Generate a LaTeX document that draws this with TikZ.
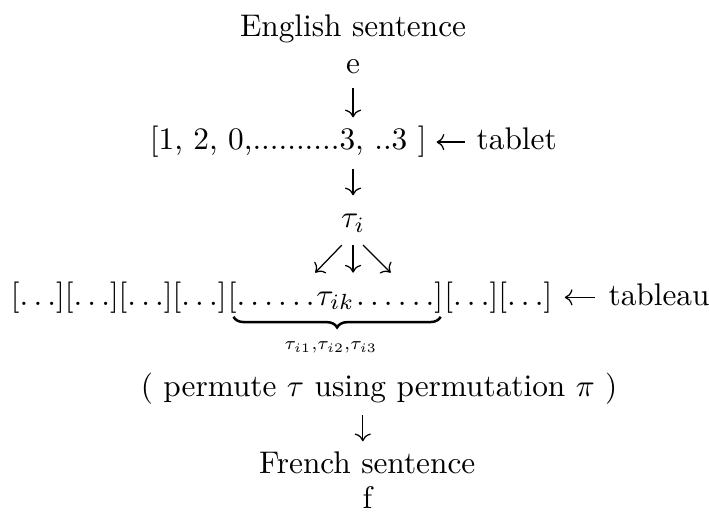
\documentclass[tikz,border=0pt]{standalone}
\usepackage{amsmath,amssymb}
\usetikzlibrary{arrows.meta,positioning,decorations.pathreplacing}
\tikzset{
  txt/.style={inner sep=0pt, anchor=base},
  row/.style={inner sep=0pt, anchor=base west},
  darr/.style={-{Computer Modern Rightarrow}, line width=0.4pt},
  brc/.style={thick, decorate, decoration={brace, mirror, amplitude=3.4pt}},
}

\begin{document}
\begin{tikzpicture}
  \useasboundingbox (-112.8pt,-163.6pt) rectangle (113.7pt,0pt);
  % english side
  \node[txt] (eng) at (0,-11.5pt) {English sentence};
  \node[txt] (e) at (0,-23.5pt) {e};
  \node[row] (tabrow) at (-65.1pt,-47.9pt) {[1, 2, 0,..........3, ..3 ]};
  \node[row] (tablt) at (39.3pt,-47.9pt) {tablet};
  \node[txt] (taui) at (0,-72.7pt) {$\tau_i$};
  % tableau row
  \node[row] (lft) at (-109.5pt,-97.5pt) {$[\ldots][\ldots][\ldots][\ldots]$};
  \node[row] (tik) at (lft.base east) {$[\ldots\ldots\mkern-2mu\tau_{ik}\mkern-2mu\ldots\ldots]$};
  \node[row] (rgt) at (tik.base east) {$[\ldots][\ldots]$};
  \node[row] (tblau) at ([xshift=17.6pt]rgt.base east) {tableau};
  \node[txt, scale=0.83] (sub) at ([xshift=-1.5pt,yshift=-14.3pt]tik.base) {$\scriptstyle\tau_{i1},\tau_{i2},\tau_{i3}$};
  % french side
  \node[txt] (perm) at (8.3pt,-126.7pt) {( permute $\tau$ using permutation $\pi$ )};
  \node[txt] (fr) at (4.5pt,-151.4pt) {French sentence};
  \node[txt] (f) at (4.6pt,-162.4pt) {f};

  \draw[darr, shorten <=4.3pt, shorten >=2.7pt] (e.south) -- (e.south |- tabrow.north);
  \draw[darr, shorten <=3.5pt, shorten >=3pt] ([yshift=2.5pt]tablt.base west) -- ([yshift=2.5pt]tabrow.base east);
  \draw[darr, shorten <=3.3pt, shorten >=5.8pt] (tabrow.south -| taui.south) -- (taui.north);
  \draw[darr] ([xshift=-3.6pt,yshift=-5.6pt]taui.base) -- ++(-8.5pt,-8.8pt);
  \draw[darr] ([yshift=-5.6pt]taui.base) -- ++(0,-8.8pt);
  \draw[darr] ([xshift=3.2pt,yshift=-5.6pt]taui.base) -- ++(8.8pt,-8.8pt);
  \draw[darr, shorten <=4.2pt, shorten >=3.8pt] ([yshift=2.5pt]tblau.base west) -- ([yshift=2.5pt]rgt.base east);
  \draw[brc] ([xshift=2pt,yshift=-1pt]tik.south west) -- ([xshift=-1pt,yshift=-1pt]tik.south east);
  \draw[darr, shorten <=3.1pt, shorten >=3.3pt] ([xshift=-1.4pt]fr.north |- perm.south) -- ([xshift=-1.4pt]fr.north);
\end{tikzpicture}
\end{document}
